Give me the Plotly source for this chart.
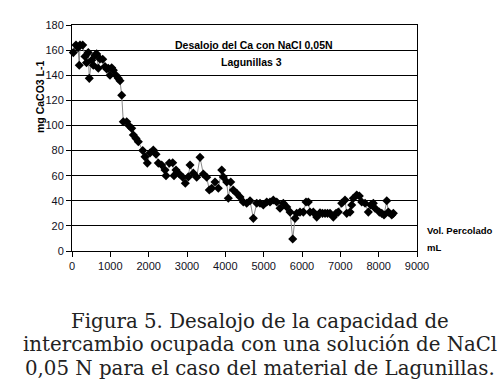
import plotly.graph_objects as go

vol_ml = [34, 104, 157, 190, 209, 279, 339, 378, 425, 451, 514, 556, 600, 644, 686, 730,
          801, 861, 905, 947, 991, 1036, 1078, 1148, 1208, 1252, 1297, 1338, 1427, 1495,
          1557, 1600, 1670, 1730, 1845, 1905, 1965, 2035, 2121, 2192, 2252, 2340, 2426,
          2452, 2539, 2627, 2661, 2713, 2800, 2888, 2956, 3034, 3079, 3165, 3253, 3340,
          3426, 3514, 3582, 3645, 3731, 3817, 3906, 3947, 4036, 4078, 4141, 4208, 4297,
          4383, 4469, 4558, 4644, 4730, 4819, 4905, 4991, 5080, 5166, 5252, 5341, 5427,
          5513, 5602, 5688, 5758, 5818, 5862, 5948, 6035, 6105, 6165, 6209, 6295, 6384,
          6470, 6535, 6601, 6666, 6731, 6817, 6888, 6948, 7036, 7122, 7167, 7253, 7297,
          7339, 7428, 7496, 7558, 7645, 7731, 7793, 7861, 7905, 8018, 8080, 8140, 8211,
          8253, 8341, 8383]
caco3 = [158, 164, 162, 148, 164, 164, 155, 150, 158, 137.5, 152, 148, 156, 157, 145.5, 153,
         152.7, 147, 145, 145.5, 140, 146, 144, 140, 137.5, 135.6, 124, 103, 103, 99.5,
         97.7, 92.4, 89.7, 87, 80, 75, 70, 78, 80.4, 77, 70, 68.5, 64.5,
         60, 70, 70.3, 60, 64.5, 61.3, 58.7, 54, 59, 68.5, 62, 58.7, 74.6,
         61.3, 58.7, 48.6, 50, 55, 50, 64.5, 59, 55, 42, 55, 48.6, 46,
         43, 39, 38, 40, 26, 38, 38, 36.6, 39, 39, 40.6, 39, 34,
         38, 35, 31, 9.5, 26, 30, 31, 31, 39, 39, 31, 31, 27,
         30.5, 30, 30, 30, 30, 27, 30, 31, 38, 40.6, 30, 31, 36.6,
         42, 44.6, 43.8, 39, 38, 31, 36.6, 38, 34, 31, 30, 28.7, 40,
         31, 28.7, 30]

x_ticks = [0, 1000, 2000, 3000, 4000, 5000, 6000, 7000, 8000, 9000]
y_ticks = [0, 20, 40, 60, 80, 100, 120, 140, 160, 180]

chart_title = ["Desalojo del Ca con NaCl 0,05N", "Lagunillas 3"]
y_title = "mg CaCO3 L-1"
x_title = ["Vol. Percolado", "mL"]
caption = ["Figura 5. Desalojo de la capacidad de",
           "intercambio ocupada con una solución de NaCl",
           "0,05 N para el caso del material de Lagunillas."]

fig = go.Figure()
fig.add_trace(go.Scatter(
    x=vol_ml, y=caco3, mode="lines+markers",
    line=dict(color="#8a8a8a", width=1),
    marker=dict(symbol="diamond", size=7, color="black"),
    showlegend=False, cliponaxis=False,
))

tick_font = dict(family="Liberation Sans, Arial", size=11, color="#111122")
fig.update_layout(
    width=503, height=391,
    margin=dict(l=72, r=86, t=25, b=140),
    paper_bgcolor="white", plot_bgcolor="white",
    xaxis=dict(range=[0, 9000], tickvals=x_ticks, showgrid=False, zeroline=False,
               showline=True, linecolor="black", linewidth=1, mirror=True,
               ticks="outside", ticklen=5, tickcolor="black", tickfont=tick_font),
    yaxis=dict(range=[0, 180], tickvals=y_ticks, showgrid=True, gridcolor="black",
               gridwidth=1, zeroline=False, showline=True, linecolor="black",
               linewidth=1, mirror=True, ticks="outside", ticklen=5, tickcolor="black",
               tickfont=tick_font),
)

def bold(size):
    return dict(family="Liberation Sans, Arial", size=size, color="black")

# plot area in pixels: x 72..417, y 25..251
def px(pix):
    return (pix - 72) / 345

def py(pix):
    return (251 - pix) / 226

fig.add_annotation(x=0.0, xref="paper", xanchor="center", yref="paper", y=py(97),
                   yanchor="middle", text="<b>" + y_title + "</b>", textangle=-90,
                   showarrow=False, font=bold(10.5), xshift=-32)
fig.add_annotation(x=px(253.5), xref="paper", y=py(45), yref="paper",
                   xanchor="center", yanchor="middle", text="<b>" + chart_title[0] + "</b>",
                   showarrow=False, font=bold(10.5))
fig.add_annotation(x=px(251.5), xref="paper", y=py(62), yref="paper",
                   xanchor="center", yanchor="middle", text="<b>" + chart_title[1] + "</b>",
                   showarrow=False, font=bold(10.5))
fig.add_annotation(x=px(427), xref="paper", y=py(230), yref="paper", xanchor="left",
                   yanchor="middle", text="<b>" + x_title[0] + "</b>",
                   showarrow=False, font=bold(9.5), xshift=-2)
fig.add_annotation(x=px(427), xref="paper", y=py(247), yref="paper", xanchor="left",
                   yanchor="middle", text="<b>" + x_title[1] + "</b>",
                   showarrow=False, font=bold(9.5), xshift=-2)

cap_font = dict(family="DejaVu Serif", size=19.8, color="#222222")
for i, line in enumerate(caption):
    fig.add_annotation(x=px(260), xref="paper", xanchor="center",
                       y=py(321 + 23.5 * i), yref="paper", yanchor="middle",
                       text=line, showarrow=False, font=cap_font)

fig.write_html("out.html", config={"displayModeBar": False},
               post_script="document.body.style.margin='0';")
